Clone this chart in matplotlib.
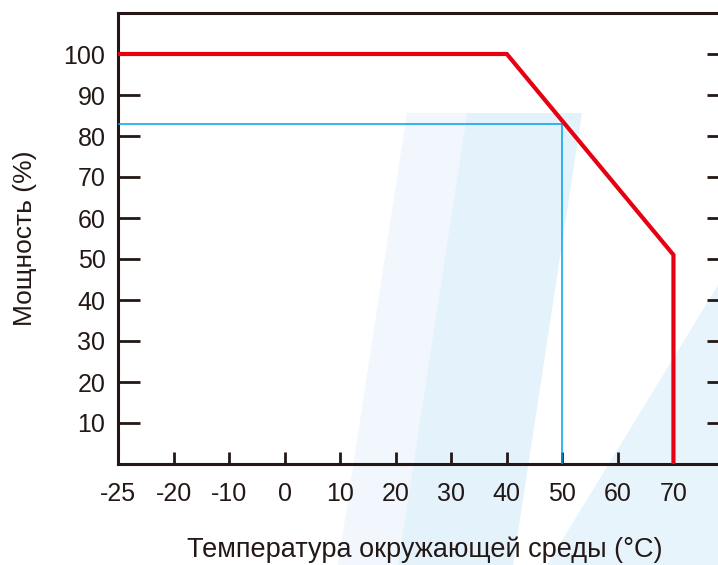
import matplotlib.pyplot as plt
from matplotlib.patches import Polygon

plt.rcParams['font.family'] = ['Liberation Sans', 'DejaVu Sans']

# категории оси X (шкала неравномерная, поэтому по индексам)
temp_labels = ['-25', '-20', '-10', '0', '10', '20', '30', '40', '50', '60', '70']
y_ticks = [10, 20, 30, 40, 50, 60, 70, 80, 90, 100]

# кривая снижения мощности (индекс по оси X, мощность %)
red_x = [0, 7, 10, 10]
red_y = [100, 100, 51, 0]

# отметка при 50 °C
blue_x = [0, 8, 8]
blue_y = [83, 83, 0]

W, H = 718, 565
fig = plt.figure(figsize=(W / 100, H / 100), dpi=100)

# бледный фоновый водяной знак
def px(pts):
    return [(x / W, 1 - y / H) for x, y in pts]

wm = [
    ([(407, 113), (467, 113), (398, 565), (338, 565)], '#f1f7fc'),
    ([(467, 113), (582, 113), (513, 565), (398, 565)], '#e4f2fc'),
    ([(547, 565), (718, 285), (718, 565)], '#e8f4fc'),
]
for pts, c in wm:
    fig.patches.append(Polygon(px(pts), closed=True, transform=fig.transFigure,
                               facecolor=c, edgecolor='none', zorder=0))

ax = fig.add_axes([118 / W, 1 - 464 / H, 611 / W, 451 / H])
ax.patch.set_alpha(0)
ax.set_zorder(2)

ax.plot(blue_x, blue_y, color='#00a0e9', lw=1.1, zorder=3)
ax.plot(red_x, red_y, color='#e60012', lw=3, zorder=4, solid_joinstyle='miter')

ax.set_xlim(0, 11)
ax.set_ylim(0, 110)

ax.set_xticks(range(len(temp_labels)))
ax.set_xticklabels(temp_labels)
ax.set_yticks(y_ticks)

dark = '#231815'
for s in ax.spines.values():
    s.set_linewidth(2.2)
    s.set_color(dark)

ax.tick_params(axis='x', direction='in', length=9, width=2, color=dark,
               labelsize=18, pad=13, labelcolor=dark)
ax.tick_params(axis='y', direction='in', length=16, width=2, color=dark,
               labelsize=18, pad=9, labelcolor=dark, right=True)
ax.xaxis.get_major_ticks()[0].tick1line.set_visible(False)

fig.text(425 / W, 1 - 550 / H, 'Температура окружающей среды (°C)',
         ha='center', va='center', fontsize=19.5, color=dark)
fig.text(25 / W, 1 - 238 / H, 'Мощность (%)', rotation=90,
         ha='center', va='center', fontsize=19, color=dark)

fig.savefig('out.png', dpi=100)
